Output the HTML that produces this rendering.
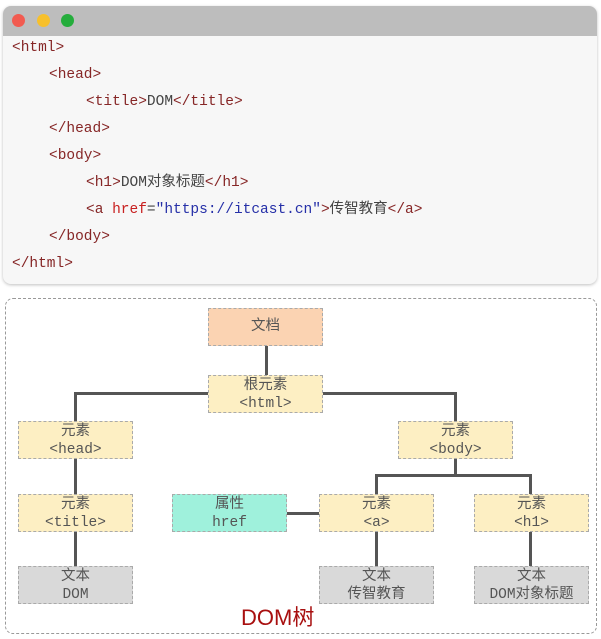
<!DOCTYPE html>
<html><head><meta charset="utf-8"><style>
body{margin:0;width:601px;height:639px;background:#fff;position:relative;overflow:hidden;font-family:"Liberation Sans","Noto Sans CJK SC",sans-serif}
.win{position:absolute;left:3px;top:6px;width:594px;height:278px;background:#f7f7f7;border-radius:8px;box-shadow:0 1px 3px rgba(0,0,0,.25);overflow:hidden}
.bar{height:30px;background:#bdbdbd}
.dot{position:absolute;top:8px;width:13px;height:13px;border-radius:50%}
.code{position:absolute;left:0;font-family:"Liberation Mono","Noto Sans CJK SC",monospace;font-size:14.5px;color:#444;white-space:pre;line-height:18px}
.t{color:#862626}.a{color:#c82020}.s{color:#2630a8}
.box{position:absolute;left:5px;top:298px;width:592px;height:336px;border:1px dashed #999;border-radius:8px;box-sizing:border-box}
.n{position:absolute;width:115px;height:38px;border:1px dashed #aaa;box-sizing:border-box;text-align:center;font-size:14.5px;color:#555;line-height:18px;padding-top:1px;font-family:"Liberation Mono","Noto Sans CJK SC",monospace}
.y{background:#fdefc3}.g{background:#d9d9d9}.o{background:#fbd3b2}.c{background:#9ff1dc}
.l{position:absolute;background:#555}
</style></head><body>
<div class="win"><div class="bar"></div>
<div class="dot" style="left:9px;background:#f25b50"></div>
<div class="dot" style="left:34px;background:#f7c02c"></div>
<div class="dot" style="left:58px;background:#25ad3c"></div>
</div>
<div class="code" style="left:12px;top:39px"><span class="t">&lt;html&gt;</span></div>
<div class="code" style="left:49px;top:66px"><span class="t">&lt;head&gt;</span></div>
<div class="code" style="left:86px;top:93px"><span class="t">&lt;title&gt;</span>DOM<span class="t">&lt;/title&gt;</span></div>
<div class="code" style="left:49px;top:120px"><span class="t">&lt;/head&gt;</span></div>
<div class="code" style="left:49px;top:147px"><span class="t">&lt;body&gt;</span></div>
<div class="code" style="left:86px;top:174px"><span class="t">&lt;h1&gt;</span>DOM对象标题<span class="t">&lt;/h1&gt;</span></div>
<div class="code" style="left:86px;top:201px"><span class="t">&lt;a </span><span class="a">href</span>=<span class="s">"https://itcast.cn"</span><span class="t">&gt;</span>传智教育<span class="t">&lt;/a&gt;</span></div>
<div class="code" style="left:49px;top:228px"><span class="t">&lt;/body&gt;</span></div>
<div class="code" style="left:12px;top:255px"><span class="t">&lt;/html&gt;</span></div>

<div class="box"></div>
<div class="l" style="left:265px;top:346px;width:3px;height:30px"></div>
<div class="l" style="left:74px;top:392px;width:135px;height:3px"></div>
<div class="l" style="left:74px;top:392px;width:3px;height:30px"></div>
<div class="l" style="left:322px;top:392px;width:135px;height:3px"></div>
<div class="l" style="left:454px;top:392px;width:3px;height:30px"></div>
<div class="l" style="left:74px;top:458px;width:3px;height:36px"></div>
<div class="l" style="left:74px;top:532px;width:3px;height:35px"></div>
<div class="l" style="left:454px;top:458px;width:3px;height:17px"></div>
<div class="l" style="left:375px;top:474px;width:156px;height:3px"></div>
<div class="l" style="left:375px;top:474px;width:3px;height:20px"></div>
<div class="l" style="left:529px;top:474px;width:3px;height:20px"></div>
<div class="l" style="left:287px;top:512px;width:33px;height:3px"></div>
<div class="l" style="left:375px;top:532px;width:3px;height:35px"></div>
<div class="l" style="left:529px;top:532px;width:3px;height:35px"></div>
<div class="n o" style="left:208px;top:308px;line-height:36px;padding:0">文档</div>
<div class="n y" style="left:208px;top:375px">根元素<br>&lt;html&gt;</div>
<div class="n y" style="left:18px;top:421px">元素<br>&lt;head&gt;</div>
<div class="n y" style="left:398px;top:421px">元素<br>&lt;body&gt;</div>
<div class="n y" style="left:18px;top:494px">元素<br>&lt;title&gt;</div>
<div class="n c" style="left:172px;top:494px">属性<br>href</div>
<div class="n y" style="left:319px;top:494px">元素<br>&lt;a&gt;</div>
<div class="n y" style="left:474px;top:494px">元素<br>&lt;h1&gt;</div>
<div class="n g" style="left:18px;top:566px">文本<br>DOM</div>
<div class="n g" style="left:319px;top:566px">文本<br>传智教育</div>
<div class="n g" style="left:474px;top:566px">文本<br>DOM对象标题</div>
<div style="position:absolute;left:241px;top:600px;font-size:22px;color:#a80f0f">DOM树</div>
</body></html>
